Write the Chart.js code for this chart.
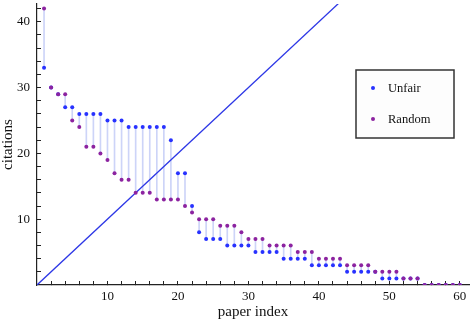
<!DOCTYPE html>
<html>
<head>
<meta charset="utf-8">
<script src="https://cdn.jsdelivr.net/npm/chart.js@4"></script>
<style>
  html, body { margin: 0; padding: 0; background: #fff; }
  #wrap { width: 473px; height: 320px; }
</style>
</head>
<body>
<div id="wrap"><canvas id="myChart" width="473" height="320"></canvas></div>
<script>
// data
const paperIndex = [1,2,3,4,5,6,7,8,9,10,11,12,13,14,15,16,17,18,19,20,
  21,22,23,24,25,26,27,28,29,30,31,32,33,34,35,36,37,38,39,40,
  41,42,43,44,45,46,47,48,49,50,51,52,53,54,55,56,57,58,59,60];
const unfair = [33,30,29,27,27,26,26,26,26,25,25,25,24,24,24,24,24,24,22,17,
  17,12,8,7,7,7,6,6,6,6,5,5,5,5,4,4,4,4,3,3,
  3,3,3,2,2,2,2,2,1,1,1,1,1,1,0,0,0,0,0,0];
const random = [42,30,29,29,25,24,21,21,20,19,17,16,16,14,14,14,13,13,13,13,
  12,11,10,10,10,9,9,9,8,7,7,7,6,6,6,6,5,5,5,4,
  4,4,4,3,3,3,3,2,2,2,2,1,1,1,0,0,0,0,0,0];
const diagonalX = [0, 62];          // the line citations = paper index
const xTicks = [2,4,6,8,10,12,14,16,18,20,22,24,26,28,30,32,34,36,38,40,42,44,46,48,50,52,54,56,58,60];
const yTicks = [2,4,6,8,10,12,14,16,18,20,22,24,26,28,30,32,34,36,38,40,42];
const xLabels = [10,20,30,40,50,60];
const yLabels = [10,20,30,40];

const blue = 'rgb(40,50,255)';
const purple = 'rgb(140,35,160)';
const serif = '"Liberation Serif", "DejaVu Serif", serif';

// legend box drawn on the canvas
const boxLegend = {
  id: 'boxLegend',
  afterDraw(chart, args, opts) {
    const ctx = chart.ctx;
    ctx.save();
    ctx.fillStyle = '#fdfdfd';
    ctx.fillRect(opts.x, opts.y, opts.w, opts.h);
    ctx.strokeStyle = '#333';
    ctx.lineWidth = 1.5;
    ctx.strokeRect(opts.x, opts.y, opts.w, opts.h);
    ctx.font = '12.5px ' + serif;
    ctx.textBaseline = 'middle';
    chart.data.datasets.forEach(ds => {
      if (ds.legendRow === undefined) return;
      const cy = opts.y + opts.first + ds.legendRow * opts.gap;
      ctx.fillStyle = ds.pointBackgroundColor;
      ctx.beginPath();
      ctx.arc(opts.x + 17, cy, 2, 0, Math.PI * 2);
      ctx.fill();
      ctx.fillStyle = '#111';
      ctx.fillText(ds.label, opts.x + 32, cy + 0.5);
    });
    ctx.restore();
  }
};

function noPad(axis) {
  axis.paddingTop = 0;
  axis.paddingBottom = 0;
  axis.paddingLeft = 0;
  axis.paddingRight = 0;
}

var ctx = document.getElementById('myChart').getContext('2d');
const myChart = new Chart(ctx, {
  type: 'scatter',
  data: {
    datasets: [
      {
        label: 'Random',
        legendRow: 1,
        data: paperIndex.map((x, i) => ({x: x, y: random[i]})),
        pointRadius: 2,
        pointBorderWidth: 0,
        pointBackgroundColor: purple,
        order: 0
      },
      {
        label: 'Unfair',
        legendRow: 0,
        data: paperIndex.map((x, i) => ({x: x, y: unfair[i]})),
        pointRadius: 2,
        pointBorderWidth: 0,
        pointBackgroundColor: blue,
        order: 1
      },
      {
        label: 'diagonal',
        type: 'line',
        data: diagonalX.map(x => ({x: x, y: x})),
        borderColor: 'rgb(45,55,230)',
        borderWidth: 1.3,
        pointRadius: 0,
        order: 2
      },
      {
        label: 'gap',
        type: 'bar',
        data: paperIndex.map((x, i) => ({x: x, y: [unfair[i], random[i]]})),
        backgroundColor: 'rgb(205,212,248)',
        barThickness: 1,
        order: 3
      }
    ]
  },
  options: {
    responsive: false,
    animation: false,
    layout: { padding: { left: 0, right: 0, top: 3, bottom: 0 } },
    plugins: {
      legend: { display: false },
      tooltip: { enabled: false },
      boxLegend: { x: 356, y: 70, w: 98, h: 68, first: 18, gap: 31 }
    },
    scales: {
      x: {
        type: 'linear',
        min: 0,
        max: 61.3,
        offset: false,
        afterBuildTicks: axis => { axis.ticks = xTicks.map(v => ({value: v})); },
        afterFit: axis => { axis.height = 35; noPad(axis); },
        grid: { offset: false, drawOnChartArea: false, tickLength: -4, tickColor: '#222' },
        border: { color: '#222', width: 1.2 },
        ticks: {
          padding: 9.5,
          color: '#111',
          maxRotation: 0,
          autoSkip: false,
          font: { family: serif, size: 13, lineHeight: 1 },
          callback: v => xLabels.includes(v) ? String(v) : ''
        },
        title: {
          display: true,
          text: 'paper index',
          color: '#111',
          padding: { top: 0, bottom: 0.5 },
          font: { family: serif, size: 15, lineHeight: 1 }
        }
      },
      y: {
        type: 'linear',
        min: 0,
        max: 42.7,
        afterBuildTicks: axis => { axis.ticks = yTicks.map(v => ({value: v})); },
        afterFit: axis => { axis.width = 37; noPad(axis); },
        grid: { drawOnChartArea: false, tickLength: -4, tickColor: '#222' },
        border: { color: '#222', width: 1.2 },
        ticks: {
          padding: 11,
          color: '#111',
          autoSkip: false,
          font: { family: serif, size: 13, lineHeight: 1 },
          callback: v => yLabels.includes(v) ? String(v) : ''
        },
        title: {
          display: true,
          text: 'citations',
          color: '#111',
          padding: { top: 0.5, bottom: 0 },
          font: { family: serif, size: 15, lineHeight: 1 }
        }
      }
    }
  },
  plugins: [boxLegend]
});
</script>
</body>
</html>
